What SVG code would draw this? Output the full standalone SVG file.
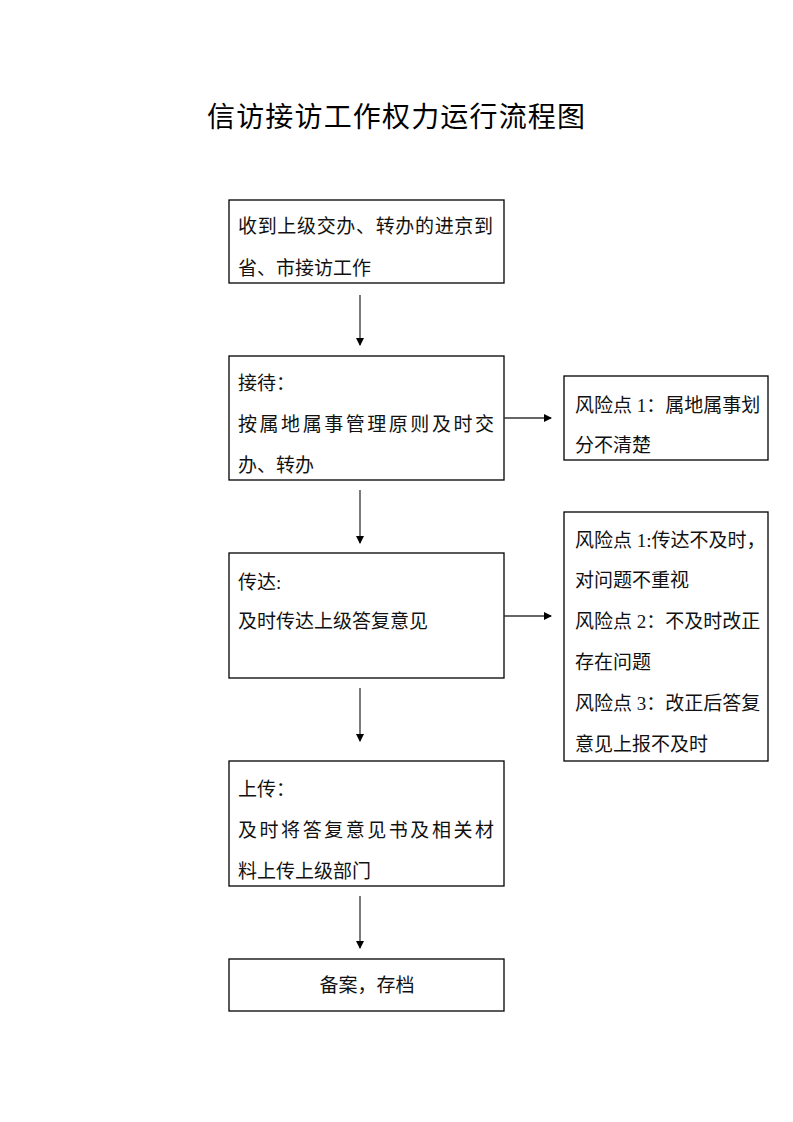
<svg xmlns="http://www.w3.org/2000/svg" width="793" height="1122" viewBox="0 0 793 1122">
<style>
.box{fill:#fff;stroke:#000;stroke-width:1.3}
.t{font-family:"Liberation Serif","Noto Sans CJK SC",serif;font-size:19px;fill:#111}
.title{font-family:"Noto Sans CJK SC",sans-serif;font-size:28px;fill:#000}
.c{stroke:#333;stroke-width:1.3;fill:none;marker-end:url(#ah)}
</style>
<defs>
<marker id="ah" markerWidth="8" markerHeight="8" refX="7" refY="4" orient="auto" markerUnits="userSpaceOnUse">
<path d="M0,0 L8,4 L0,8 Z" fill="#000"/>
</marker>
</defs>
<rect width="793" height="1122" fill="#fff"/>
<text class="title" x="207" y="127" textLength="378" lengthAdjust="spacing">信访接访工作权力运行流程图</text>

<g id="n1">
<rect class="box" x="229" y="200" width="275" height="83"/>
<text class="t" x="238" y="233" textLength="255" lengthAdjust="spacing">收到上级交办、转办的进京到</text>
<text class="t" x="238" y="275">省、市接访工作</text>
</g>
<g id="n2">
<rect class="box" x="229" y="356" width="275" height="124"/>
<text class="t" x="238" y="390">接待：</text>
<text class="t" x="238" y="431" textLength="256" lengthAdjust="spacing">按属地属事管理原则及时交</text>
<text class="t" x="238" y="472">办、转办</text>
</g>
<g id="r1">
<rect class="box" x="564" y="376" width="204" height="84"/>
<text class="t" x="575" y="412">风险点 1：属地属事划</text>
<text class="t" x="575" y="452">分不清楚</text>
</g>
<g id="n3">
<rect class="box" x="229" y="553" width="275" height="125"/>
<text class="t" x="238" y="589">传达:</text>
<text class="t" x="238" y="628">及时传达上级答复意见</text>
</g>
<g id="r2">
<rect class="box" x="564" y="512" width="204" height="249"/>
<text class="t" x="575" y="547">风险点 1:传达不及时，</text>
<text class="t" x="575" y="587">对问题不重视</text>
<text class="t" x="575" y="628">风险点 2：不及时改正</text>
<text class="t" x="575" y="669">存在问题</text>
<text class="t" x="575" y="710">风险点 3：改正后答复</text>
<text class="t" x="575" y="751">意见上报不及时</text>
</g>
<g id="n4">
<rect class="box" x="229" y="761" width="275" height="125"/>
<text class="t" x="238" y="796">上传：</text>
<text class="t" x="238" y="837" textLength="256" lengthAdjust="spacing">及时将答复意见书及相关材</text>
<text class="t" x="238" y="878">料上传上级部门</text>
</g>
<g id="n5">
<rect class="box" x="229" y="959" width="275" height="52"/>
<text class="t" x="367" y="992" text-anchor="middle">备案，存档</text>
</g>

<g id="connectors">
<line class="c" x1="360" y1="295" x2="360" y2="345"/>
<line class="c" x1="360" y1="490" x2="360" y2="543"/>
<line class="c" x1="360" y1="688" x2="360" y2="741"/>
<line class="c" x1="360" y1="896" x2="360" y2="948"/>
<line class="c" x1="504" y1="418" x2="551" y2="418"/>
<line class="c" x1="504" y1="616" x2="551" y2="616"/>
</g>
</svg>
